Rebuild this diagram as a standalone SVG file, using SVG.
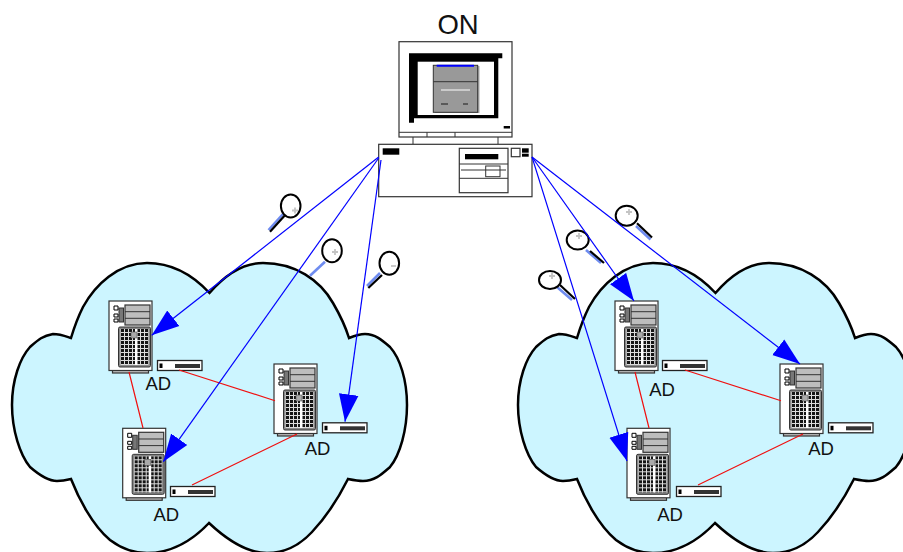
<svg xmlns="http://www.w3.org/2000/svg" width="903" height="552" viewBox="0 0 903 552">
<style>
text{font-family:"Liberation Sans",Arial,sans-serif;fill:#111;text-anchor:middle}
.ad{font-size:18.500px}
.cloud{fill:#ccf5ff;stroke:#000;stroke-width:2.5;stroke-linejoin:miter}
.blue{stroke:#0000ff;stroke-width:1.200;fill:none;marker-end:url(#arrow)}
.red{stroke:#f01010;stroke-width:1.200;fill:none}
.o{fill:#fff;stroke:#333;stroke-width:1.200}
.g{fill:#bdbdbd;stroke:#333;stroke-width:1.200}
.k{fill:#000}
.lens{fill:#fff;stroke:#000;stroke-width:2}
.cross{stroke:#c4c4c4;stroke-width:1.800;fill:none}
.hk{stroke:#000;stroke-width:2.200;fill:none}
.hb{stroke:#6f8cf0;stroke-width:2.600;fill:none}
</style>
<defs>
<marker id="arrow" markerUnits="userSpaceOnUse" markerWidth="28" markerHeight="22" viewBox="0 0 27 20" refX="26.500" refY="10" orient="auto"><path d="M0 0.500L26.500 10L0 19.500Z" fill="#0000ff"/></marker>
<pattern id="grid" patternUnits="userSpaceOnUse" width="4" height="4"><rect width="4" height="4" fill="#ddd"/><rect width="3" height="3" fill="#151515"/></pattern>
<path id="cloudShape" class="cloud" d="M209.500 293C190 272 170 263 147 263C118 263 95 285 83 307C78 317 74 328 71 338C65 336 60 334 53 334C42 336 38 340 30 347C20 358 12 380 12 405C12 430 20 455 30 467C38 474 47 481 57 481C62 481 67 480 71 479C78 497 92 525 110 540C122 549 135 553 147 553C170 553 190 543 209 523C225 538 245 553 267 553C285 553 300 545 312 532C328 515 340 495 348 479C353 480 358 481 363 481C375 481 382 474 390 467C400 455 407 430 407 405C407 380 400 358 390 347C382 340 375 334 365 334C360 334 354 336 349 338C345 325 340 315 333 303C320 280 295 263 263 263C242 263 225 275 209.500 293Z"/>
<g id="server">
<rect x="3.500" y="69" width="36" height="3" class="g"/>
<rect x="0" y="0" width="43" height="69.500" class="o"/>
<rect x="16" y="4" width="25" height="20" class="g"/>
<path d="M16 10.700H41M16 17.300H41" stroke="#333" fill="none"/>
<rect x="10" y="7" width="4.500" height="14" fill="#777" stroke="#333"/>
<path d="M5 5h4v4h-4zM5 13h4v3h-4zM5 18h4v3h-4z" fill="#fff" stroke="#000"/>
<rect x="9.500" y="26" width="32" height="40" rx="1.500" fill="#888" stroke="#333"/>
<rect x="11.500" y="28" width="28" height="36" fill="url(#grid)"/>
<rect x="26" y="28" width="2.500" height="36" fill="#fff"/>
<rect x="22" y="31" width="6" height="6" fill="#aaa" stroke="#555" stroke-width=".6"/>
</g>
<g id="switch">
<rect x="0.500" y="0.500" width="44.500" height="10" fill="#fff" stroke="#222" stroke-width="1.300"/>
<rect x="2.500" y="3.500" width="3" height="4.500" class="k"/>
<rect x="18" y="4" width="25" height="4" fill="#333"/>
</g>
</defs>

<g id="cloud-left"><use href="#cloudShape"/></g>
<g id="cloud-right"><use href="#cloudShape" transform="translate(506 0)"/></g>

<g id="on-station">
<text x="458" y="34" font-size="27.500">ON</text>
<rect x="399" y="41.700" width="113" height="95.300" class="o"/>
<path d="M399 132.300H512M427 132.300V137M455 132.300V137" stroke="#333" fill="none"/>
<path d="M409 53.300H502.300V58.300H498.300V118.300H414V122.700H409Z" class="k"/>
<rect x="417.700" y="61.700" width="76.300" height="53.300" fill="#fff"/>
<rect x="435" y="66" width="44.500" height="47" fill="#aaa"/>
<rect x="433.300" y="65.300" width="44.400" height="47" fill="#999" stroke="#333"/>
<path d="M436.700 65.700H474" stroke="#0000ff" stroke-width="2" fill="none"/>
<path d="M433.300 81.700H477.700" stroke="#333" fill="none"/>
<path d="M441 90H470" stroke="#ddd" stroke-width="1.500" fill="none"/>
<path d="M441 104H448M463 104H468" stroke="#444" stroke-width="1.500" fill="none"/>
<rect x="503.700" y="126" width="6.300" height="2.500" class="k"/>
<path d="M413 137V144M498 137V144" stroke="#333" fill="none"/>
<rect x="378.700" y="144.300" width="153.300" height="52.400" class="o"/>
<rect x="382.700" y="148.300" width="16.600" height="6.400" class="k"/>
<rect x="459.300" y="148.300" width="48.700" height="44.400" class="o"/>
<rect x="465" y="154" width="33.300" height="5.300" class="k"/>
<path d="M459.300 164H508M461 170H506M459.300 178.300H508" stroke="#333" fill="none"/>
<rect x="485.700" y="166" width="14.300" height="10.700" fill="none" stroke="#333"/>
<rect x="511.300" y="148.300" width="8.700" height="8.400" class="o"/>
<rect x="522" y="148.300" width="6.700" height="4.400" class="k"/>
<rect x="522" y="153.700" width="6.700" height="3" class="k"/>
</g>

<g id="magnifier-1"><path d="M283 214L268.500 230" class="hb"/><path d="M284.500 215.700L270 231.700" class="hk"/><ellipse cx="290.700" cy="206" rx="9.800" ry="11.500" class="lens"/><path d="M292 210.500h6M295 207.500v6" class="cross"/></g>
<g id="magnifier-2"><path d="M325 261.700L310 275.700" class="hb"/><ellipse cx="332" cy="250.700" rx="9.800" ry="11.500" class="lens"/><path d="M332 252h6M335 249v6" class="cross"/></g>
<g id="magnifier-3"><path d="M380 273L367 286" class="hb"/><path d="M382 275L368.300 288" class="hk"/><ellipse cx="389.300" cy="263.300" rx="9.800" ry="11.500" class="lens"/><path d="M391 266h5" class="cross"/></g>
<g id="magnifier-4"><path d="M636 226L650.500 239.500" class="hb"/><path d="M637 223.300L652 237.500" class="hk"/><ellipse cx="626.700" cy="215.700" rx="11" ry="10" class="lens"/><path d="M626 212h6M629 209v6" class="cross"/></g>
<g id="magnifier-5"><path d="M586 250L601 263" class="hb"/><path d="M590 251L604 263" class="hk"/><ellipse cx="577.700" cy="240" rx="11" ry="9.500" class="lens"/><path d="M576 236h6M579 233v6" class="cross"/></g>
<g id="magnifier-6"><path d="M557 287L572 300" class="hb"/><path d="M560 285L575 299" class="hk"/><ellipse cx="550" cy="280" rx="11" ry="9" class="lens"/><path d="M549 276h6M552 273v6" class="cross"/></g>

<g id="ad-left-1"><use href="#server" x="109" y="301"/><use href="#switch" x="157" y="360"/><text x="158.300" y="390" class="ad">AD</text></g>
<g id="ad-left-2"><use href="#server" x="274" y="364"/><use href="#switch" x="322" y="422.300"/><text x="317.500" y="455" class="ad">AD</text></g>
<g id="ad-left-3"><use href="#server" x="122.700" y="428.300"/><use href="#switch" x="170" y="486"/><text x="166.300" y="520.700" class="ad">AD</text></g>
<g id="ad-right-1"><use href="#server" x="615" y="301"/><use href="#switch" x="662" y="360"/><text x="662" y="396" class="ad">AD</text></g>
<g id="ad-right-2"><use href="#server" x="780" y="364"/><use href="#switch" x="828" y="422.300"/><text x="821" y="455" class="ad">AD</text></g>
<g id="ad-right-3"><use href="#server" x="627" y="428.300"/><use href="#switch" x="676" y="486"/><text x="670" y="520.700" class="ad">AD</text></g>

<g id="connectors">
<path d="M129 372L143 428M179 370L275 400.700M297 434L192 485" class="red"/>
<path d="M635 372L649 428M685 370L781 400.700M803 434L698 485" class="red"/>
<path d="M378.700 157L151.700 335.300" class="blue"/>
<path d="M378.700 158L163.300 461.700" class="blue"/>
<path d="M381 160L345 421.700" class="blue"/>
<path d="M532 157L634 301" class="blue"/>
<path d="M532 157L627 461" class="blue"/>
<path d="M532 157L800 364" class="blue"/>
</g>
</svg>
